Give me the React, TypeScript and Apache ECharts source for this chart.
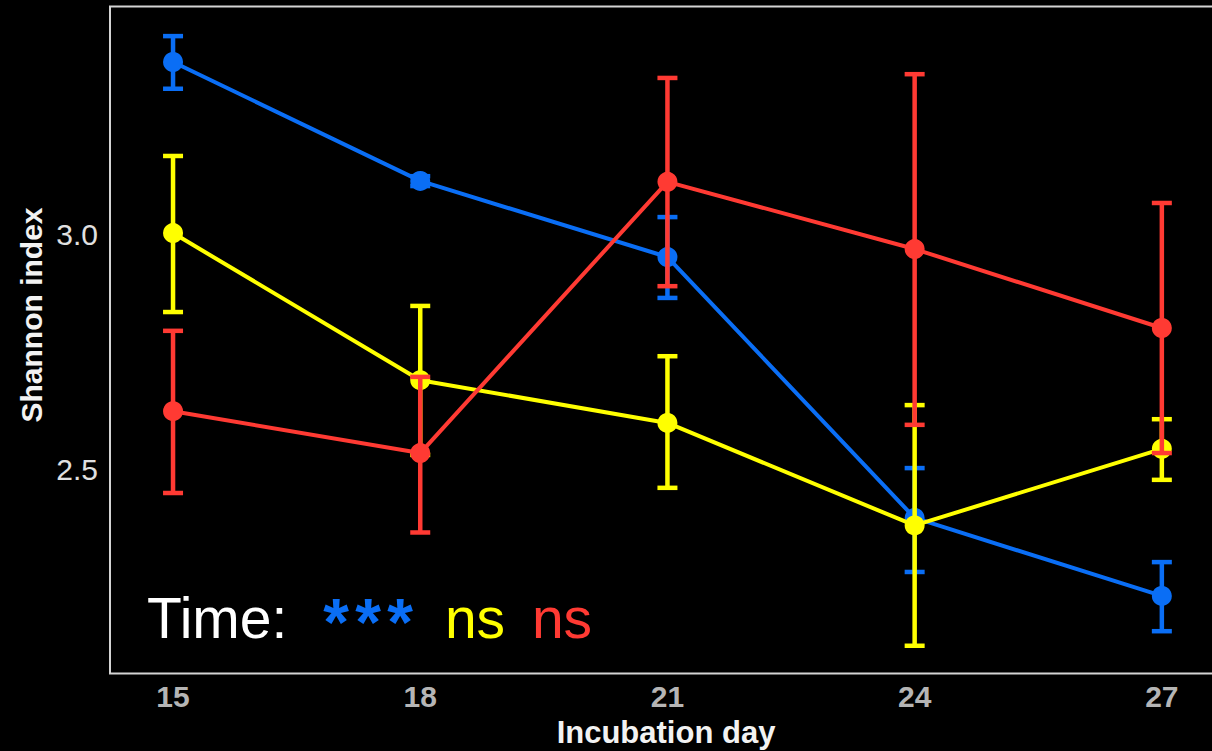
import React, { useEffect, useRef } from "react";
import * as echarts from "echarts";

const days = [15, 18, 21, 24, 27];
const xTicks = [15, 18, 21, 24, 27];
const yTicks = [2.5, 3.0];

const blueMean = [3.366, 3.113, 2.951, 2.396, 2.23];
const blueLow = [3.309, 3.102, 2.864, 2.281, 2.155];
const blueHigh = [3.421, 3.123, 3.036, 2.502, 2.302];

const yellowMean = [3.002, 2.689, 2.598, 2.38, 2.543];
const yellowLow = [2.834, 2.53, 2.46, 2.124, 2.477];
const yellowHigh = [3.166, 2.847, 2.74, 2.636, 2.606];

const redMean = [2.623, 2.534, 3.111, 2.968, 2.8];
const redLow = [2.449, 2.365, 2.889, 2.594, 2.534];
const redHigh = [2.794, 2.696, 3.332, 3.34, 3.066];

const BLUE = "#0a6ef5";
const YELLOW = "#ffff00";
const RED = "#ff3a33";
const FONT = "'Liberation Sans', Arial, sans-serif";

function errorSeries(color: string, low: number[], high: number[], z: number) {
  return {
    type: "custom",
    z,
    data: days.map((d, i) => [d, low[i], high[i]]),
    encode: { x: 0, y: [1, 2] },
    renderItem: (params: any, api: any) => {
      const x = api.value(0);
      const lo = api.value(1);
      const hi = api.value(2);
      const pHi = api.coord([x, hi]);
      const pLo = api.coord([x, lo]);
      const hw = 10;
      const style = { stroke: color, lineWidth: 4.5 };
      return {
        type: "group",
        children: [
          { type: "line", shape: { x1: pHi[0], y1: pHi[1], x2: pLo[0], y2: pLo[1] }, style },
          { type: "line", shape: { x1: pHi[0] - hw, y1: pHi[1], x2: pHi[0] + hw, y2: pHi[1] }, style },
          { type: "line", shape: { x1: pLo[0] - hw, y1: pLo[1], x2: pLo[0] + hw, y2: pLo[1] }, style },
        ],
      };
    },
  };
}

function lineSeries(color: string, mean: number[], z: number) {
  return {
    type: "line",
    z,
    data: days.map((d, i) => [d, mean[i]]),
    symbol: "circle",
    symbolSize: 20,
    itemStyle: { color },
    lineStyle: { color, width: 4 },
  };
}

function star(x: number) {
  return {
    type: "text",
    x,
    y: 622,
    z: 100,
    style: { text: "*", fill: BLUE, font: `bold 66px ${FONT}`, textAlign: "center", textVerticalAlign: "middle" },
  };
}

export default function App() {
  const ref = useRef<HTMLDivElement>(null);
  useEffect(() => {
    if (!ref.current) return;
    const chart = echarts.init(ref.current, null, { renderer: "svg" });
    chart.setOption({
      animation: false,
      backgroundColor: "#000000",
      grid: {
        left: 110,
        top: 6.5,
        width: 1112,
        height: 667,
        outerBoundsMode: "none",
        containLabel: false,
        show: true,
        borderColor: "#d4d4d4",
        borderWidth: 2,
        backgroundColor: "transparent",
      },
      xAxis: {
        type: "value",
        min: 14.235,
        max: 27.73,
        axisLine: { show: false },
        axisTick: { show: false },
        splitLine: { show: false },
        axisLabel: {
          customValues: xTicks,
          color: "#b5b5b5",
          fontWeight: "bold",
          fontSize: 30,
          fontFamily: FONT,
          margin: 8,
        },
      },
      yAxis: {
        type: "value",
        min: 2.065,
        max: 3.484,
        axisLine: { show: false },
        axisTick: { show: false },
        splitLine: { show: false },
        axisLabel: {
          customValues: yTicks,
          formatter: (v: number) => v.toFixed(1),
          color: "#e0e0e0",
          fontSize: 30,
          fontFamily: FONT,
          margin: 12,
        },
      },
      graphic: [
        {
          type: "text",
          x: 666,
          y: 732,
          style: {
            text: "Incubation day",
            fill: "#f2f2f2",
            font: `bold 31px ${FONT}`,
            textAlign: "center",
            textVerticalAlign: "middle",
          },
        },
        {
          type: "text",
          x: 31,
          y: 315,
          rotation: Math.PI / 2,
          style: {
            text: "Shannon index",
            fill: "#f2f2f2",
            font: `bold 30px ${FONT}`,
            textAlign: "center",
            textVerticalAlign: "middle",
          },
        },
        {
          type: "text",
          x: 147,
          y: 618,
          z: 100,
          style: { text: "Time:", fill: "#ffffff", font: `57px ${FONT}`, textAlign: "left", textVerticalAlign: "middle" },
        },
        star(336),
        star(368),
        star(400),
        {
          type: "text",
          x: 475,
          y: 618,
          z: 100,
          style: { text: "ns", fill: YELLOW, font: `57px ${FONT}`, textAlign: "center", textVerticalAlign: "middle" },
        },
        {
          type: "text",
          x: 562,
          y: 618,
          z: 100,
          style: { text: "ns", fill: RED, font: `57px ${FONT}`, textAlign: "center", textVerticalAlign: "middle" },
        },
      ],
      series: [
        errorSeries(BLUE, blueLow, blueHigh, 2),
        lineSeries(BLUE, blueMean, 3),
        errorSeries(YELLOW, yellowLow, yellowHigh, 4),
        lineSeries(YELLOW, yellowMean, 5),
        errorSeries(RED, redLow, redHigh, 6),
        lineSeries(RED, redMean, 7),
      ],
    });
    return () => chart.dispose();
  }, []);
  return (
    <div
      ref={ref}
      style={{ position: "absolute", left: 0, top: 0, width: 1212, height: 751, background: "#000" }}
    />
  );
}
